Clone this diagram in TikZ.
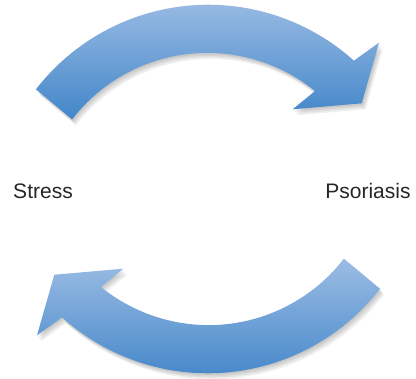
\documentclass[tikz,border=0pt]{standalone}
\usepackage{fontspec}
\setmainfont{Liberation Sans}

\definecolor{arrowlight}{RGB}{156,189,228}
\definecolor{arrowdark}{RGB}{66,134,201}

\begin{document}
\begin{tikzpicture}[
    x=1bp, y=-1bp,
    arrowbody/.style={top color=arrowlight, bottom color=arrowdark, draw=none},
    arrowshadow/.style={fill=black, opacity=0.06, draw=none},
    termlabel/.style={font=\fontsize{21bp}{25bp}\selectfont, text=black!85,
        anchor=base, inner sep=0pt},
]

\def\ro{217.7}   % outer radius
\def\ri{171}     % inner radius

\useasboundingbox (0,0) rectangle (416,379);

% ── Arrow outlines ──────────────────────────────────────────
% Top: Stress -> Psoriasis
\def\toparrow{(36,89.3) arc[start angle=-142.3, end angle=-48, radius=\ro]
    -- (379,42.7) -- (361.7,103.3) -- (292.7,109.3) -- (315,91)
    arc[start angle=-51, end angle=-142.3, radius=\ri] -- cycle}
% Bottom: Psoriasis -> Stress
\def\botarrow{(380,288.7) arc[start angle=37.7, end angle=132, radius=\ro]
    -- (37,335.3) -- (54.3,274.7) -- (123.3,268.7) -- (101,287)
    arc[start angle=129, end angle=37.7, radius=\ri] -- cycle}

% ── Soft shadows ────────────────────────────────────────────
\foreach \dx/\dy in {1/1.5, 2/3, 3/4.5, 4/6} {
    \fill[arrowshadow, shift={(\dx,\dy)}] \toparrow;
    \fill[arrowshadow, shift={(\dx,\dy)}] \botarrow;
}

% ── Arrows ──────────────────────────────────────────────────
\shade[arrowbody] \toparrow;
\shade[arrowbody] \botarrow;

% ── Labels ──────────────────────────────────────────────────
\node[termlabel] (stress) at (43,198.3) {Stress};
\node[termlabel] (psoriasis) at (368,198.3) {Psoriasis};

\end{tikzpicture}
\end{document}
